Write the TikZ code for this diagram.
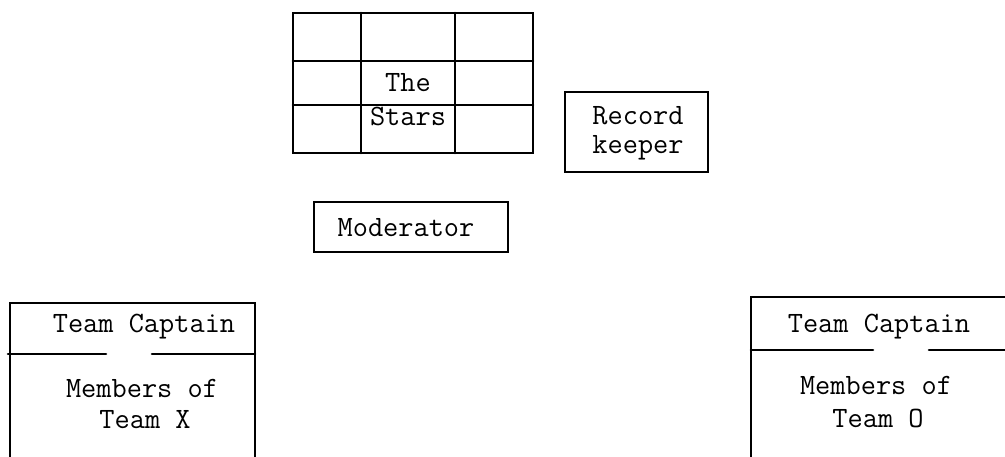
\documentclass[tikz,border=0pt]{standalone}
\usepackage{fontspec}
\begin{document}
\begin{tikzpicture}[x=1pt,y=-1pt,
  ln/.style={line width=2.6pt,line cap=round},
  lbl/.style={anchor=base,inner sep=0pt,font=\fontsize{29.5}{33}\selectfont\ttfamily}]
\useasboundingbox (0,0) rectangle (1005,457);
% The Stars grid
\draw[ln] (293,13) rectangle (533,153);
\draw[ln] (361,13) -- (361,153) (455,13) -- (455,153);
\draw[ln] (293,61) -- (533,61) (293,105) -- (533,105);
\node[lbl] (the) at (408,92) {The};
\node[lbl] (stars) at (408,126) {Stars};
% Record keeper
\draw[ln] (565,92) rectangle (708,172);
\node[lbl] (rec) at (638,125) {Record};
\node[lbl] (keep) at (638,154) {keeper};
% Moderator
\draw[ln] (314,202) rectangle (508,252);
\node[lbl] (mod) at (406,237) {Moderator};
% Team X
\draw[ln] (10,457) -- (10,303) -- (255,303) -- (255,457);
\draw[ln] (8,354) -- (106,354) (152,354) -- (255,354);
\node[lbl] (capx) at (144,333) {Team Captain};
\node[lbl] (memx) at (142,397) {Members of};
\node[lbl] (teamx) at (145,428) {Team X};
% Team O
\draw[ln] (751,457) -- (751,297) -- (1005,297);
\draw[ln] (751,350) -- (873,350) (929,350) -- (1005,350);
\node[lbl] (capo) at (879,333) {Team Captain};
\node[lbl] (memo) at (876,395) {Members of};
\node[lbl] (teamo) at (878,427) {Team O};
\end{tikzpicture}
\end{document}
